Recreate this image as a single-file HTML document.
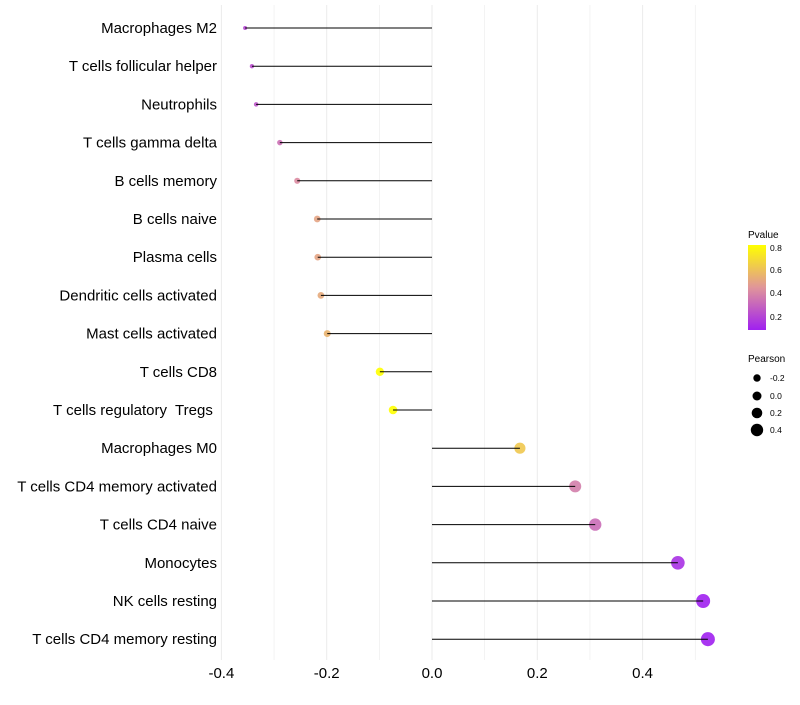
<!DOCTYPE html>
<html><head><meta charset="utf-8"><style>
body{margin:0;background:#fff;font-family:"Liberation Sans",sans-serif}
</style></head><body>
<svg id="chart" width="800" height="700" font-family="Liberation Sans, sans-serif">
<defs><linearGradient id="pg" x1="0" y1="1" x2="0" y2="0">
<stop offset="0" stop-color="#a020f0"/><stop offset="0.5" stop-color="#e0959a"/><stop offset="1" stop-color="#ffff00"/></linearGradient></defs>
<g id="grid"></g><g id="points"></g><g id="stems"></g><g id="labels"></g><g id="xticks"></g>
<g>
<text x="748" y="238" font-size="10">Pvalue</text>
<rect x="748" y="245" width="18" height="85" fill="url(#pg)"/>
<text x="770" y="251" font-size="8.5">0.8</text><text x="770" y="273" font-size="8.5">0.6</text>
<text x="770" y="296" font-size="8.5">0.4</text><text x="770" y="320" font-size="8.5">0.2</text>
</g>
<g>
<text x="748" y="362" font-size="10">Pearson</text>
<circle cx="757" cy="378" r="3.7"/><text x="770" y="381" font-size="8.5">-0.2</text>
<circle cx="757" cy="396" r="4.5"/><text x="770" y="399" font-size="8.5">0.0</text>
<circle cx="757" cy="413" r="5.3"/><text x="770" y="416" font-size="8.5">0.2</text>
<circle cx="757" cy="430" r="6.2"/><text x="770" y="433" font-size="8.5">0.4</text>
</g>
</svg>
<script>
const categories=["Macrophages M2","T cells follicular helper","Neutrophils","T cells gamma delta","B cells memory","B cells naive","Plasma cells","Dendritic cells activated","Mast cells activated","T cells CD8","T cells regulatory  Tregs ","Macrophages M0","T cells CD4 memory activated","T cells CD4 naive","Monocytes","NK cells resting","T cells CD4 memory resting"];
const pearson=[-0.355,-0.342,-0.334,-0.289,-0.256,-0.218,-0.217,-0.211,-0.199,-0.099,-0.074,0.167,0.272,0.310,0.467,0.515,0.524];
const pvalues=[0.22,0.24,0.26,0.34,0.42,0.5,0.5,0.52,0.55,0.85,0.85,0.62,0.38,0.33,0.15,0.1,0.1];
const xTicks=[-0.4,-0.2,0,0.2,0.4];
const NS="http://www.w3.org/2000/svg";
const x=v=>432+v*526.5;
const y=i=>28+i*38.2;
function col(p){const t=Math.max(0,Math.min(1,(p-0.1)/0.7));
 const a=[160,32,240],m=[224,149,154],b=[255,255,0];let c;
 if(t<0.5){const u=t/0.5;c=a.map((v,k)=>v+(m[k]-v)*u)}else{const u=(t-0.5)/0.5;c=m.map((v,k)=>v+(b[k]-v)*u)}
 return`rgb(${c.map(Math.round).join(",")})`;}
function el(t,a,p){const e=document.createElementNS(NS,t);for(const k in a)e.setAttribute(k,a[k]);p.appendChild(e);return e;}
const grid=document.getElementById("grid");
for(let v=-0.4;v<=0.55;v+=0.1){const g=el("line",{x1:x(v),x2:x(v),y1:5,y2:660,stroke:"#ebebeb","stroke-width":Math.abs(Math.round(v*10))%2==0?1:0.6},grid);

}
const pts=document.getElementById("points"),stems=document.getElementById("stems"),labels=document.getElementById("labels");
categories.forEach((c,i)=>{
 const r=Math.sqrt(Math.max(1,22.3+51.4*pearson[i]));
 const ci=el("circle",{cx:x(pearson[i]),cy:y(i),r:r,fill:col(pvalues[i]),"fill-opacity":0.9},pts);
 
 
 const ln=el("line",{x1:x(0),x2:x(pearson[i]),y1:y(i),y2:y(i),stroke:"#000","stroke-width":1},stems);
 
 
 const t=el("text",{x:217,y:y(i)+5,"text-anchor":"end","font-size":15},labels);t.textContent=c;
 t.setAttribute("xml:space","preserve");t.style.whiteSpace="pre";
 
 
});
const xt=document.getElementById("xticks");
xTicks.forEach(v=>{const t=el("text",{x:x(v),y:678,"text-anchor":"middle","font-size":15},xt);t.textContent=v===0?"0.0":v.toFixed(1);

});
</script>
</body></html>
